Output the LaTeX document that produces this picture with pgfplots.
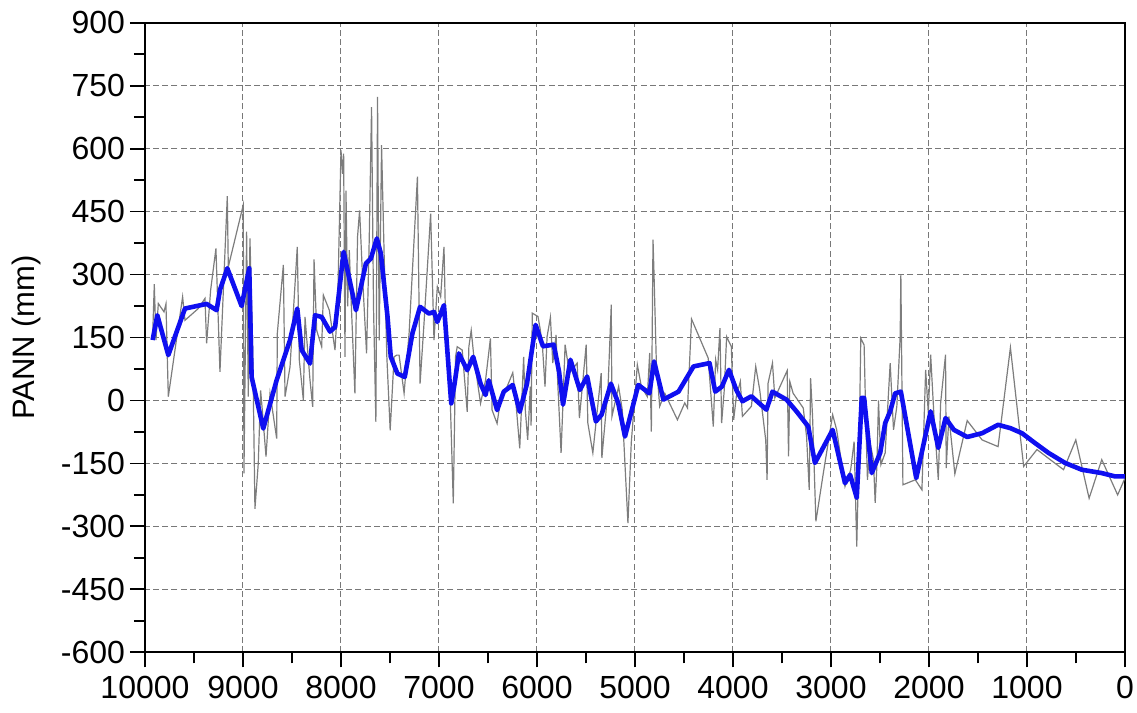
\documentclass[border=0pt]{standalone}
\usepackage{fontspec}
\setmainfont{Liberation Sans}
\usepackage{pgfplots}
\pgfplotsset{compat=1.18}
\definecolor{grayline}{RGB}{125,125,125}
\definecolor{blueline}{RGB}{15,15,240}
\definecolor{gridc}{RGB}{120,120,120}
\pgfplotstableread{
x y
9922 152
9905 277
9888 144
9864 231
9806 211
9786 230
9762 9
9616 247
9592 191
9456 219
9388 243
9371 136
9330 263
9276 362
9235 68
9160 487
9150 318
8997 466
8990 -174
8963 402
8946 9
8929 386
8901 128
8878 -258
8844 -150
8820 24
8800 -31
8765 -134
8724 17
8656 -91
8650 159
8588 323
8571 9
8520 80
8446 366
8425 96
8384 1
8367 199
8316 48
8289 -15
8275 336
8248 167
8197 128
8180 251
8119 215
8061 120
8034 231
8000 596
7983 540
7973 588
7959 104
7949 500
7932 224
7915 358
7898 247
7858 17
7831 390
7810 453
7780 294
7739 112
7712 381
7688 699
7668 223
7644 -51
7627 723
7610 143
7586 608
7559 341
7532 104
7498 -71
7458 104
7431 108
7407 108
7356 17
7305 160
7220 533
7193 40
7153 183
7085 445
7051 144
7017 271
6983 247
6949 366
6932 183
6888 25
6854 -245
6831 104
6814 128
6763 120
6712 -27
6695 128
6671 167
6644 104
6576 -7
6525 48
6475 148
6458 -23
6407 -55
6373 1
6305 33
6247 66
6220 9
6176 -114
6136 104
6119 -23
6095 -94
6068 33
6060 -60
6048 208
5990 200
5966 168
5942 121
5918 33
5897 152
5863 198
5839 89
5805 156
5788 41
5754 -125
5713 133
5669 65
5590 89
5567 -42
5498 133
5481 -54
5430 -125
5345 65
5338 -137
5276 25
5242 228
5235 -38
5167 33
5130 -22
5072 -292
5038 -101
4976 85
4935 33
4874 9
4850 113
4833 -74
4816 383
4806 303
4782 89
4748 -14
4696 17
4567 -46
4492 -6
4464 -18
4423 194
4253 101
4201 -62
4177 97
4157 73
4133 172
4116 -54
4089 25
4065 152
4041 140
4017 129
3993 -46
3966 9
3925 45
3904 -38
3812 -14
3768 81
3727 25
3666 -94
3652 -189
3642 41
3597 89
3573 6
3447 71
3433 -133
3420 45
3386 17
3283 -18
3249 -86
3222 -213
3208 53
3188 -38
3154 -288
3078 -173
2983 -34
2942 -70
2857 -205
2799 -165
2764 -98
2737 -348
2710 -70
2696 148
2662 132
2642 -70
2628 -189
2601 -101
2567 -141
2549 -244
2532 -157
2515 0
2491 -153
2447 -125
2396 89
2362 -70
2328 -14
2294 152
2287 299
2266 -201
2140 -189
2072 -213
2034 73
2007 -30
1983 109
1949 -38
1905 -189
1881 -6
1831 109
1824 -161
1797 -38
1736 -175
1610 -48
1458 -94
1295 -110
1169 126
1085 -50
1034 -157
898 -117
763 -141
627 -165
502 -94
366 -233
237 -141
75 -225
0 -185
}\graydata
\pgfplotstableread{
x y
9922 144
9874 203
9762 108
9592 219
9371 230
9269 215
9235 263
9160 315
9014 225
8936 315
8912 56
8793 -67
8657 48
8520 144
8446 219
8401 120
8316 88
8265 203
8197 199
8112 164
8060 175
7973 354
7847 215
7746 326
7695 338
7634 386
7593 350
7525 199
7492 104
7424 64
7349 56
7271 160
7193 223
7102 207
7051 211
7017 187
6949 227
6875 -7
6841 40
6797 112
6712 72
6651 104
6576 40
6525 13
6492 48
6407 -23
6339 21
6247 37
6176 -27
6102 40
6014 180
5939 129
5829 133
5775 69
5734 -10
5659 97
5563 25
5488 57
5399 -50
5341 -34
5246 40
5171 -6
5102 -86
4966 37
4853 17
4805 93
4710 2
4556 21
4403 81
4239 89
4181 21
4113 33
4041 73
3966 25
3904 -2
3812 10
3659 -22
3597 21
3454 2
3352 -26
3232 -62
3164 -149
2983 -70
2857 -197
2805 -177
2737 -232
2686 6
2662 6
2584 -173
2498 -125
2447 -54
2396 -26
2345 17
2287 21
2130 -185
1983 -26
1905 -113
1831 -42
1746 -70
1610 -87
1458 -78
1295 -58
1169 -66
1051 -78
915 -102
780 -125
610 -149
441 -165
237 -173
102 -181
0 -181
}\bluedata
\begin{document}
\begin{tikzpicture}
\path[use as bounding box] (-72.5pt,-30.35pt) rectangle (496pt,326.15pt);
\begin{axis}[
  scale only axis,
  width=490pt, height=314.8pt,
  at={(0pt,0pt)}, anchor=south west,
  x dir=reverse,
  xmin=0, xmax=10000, ymin=-600, ymax=900,
  xtick={0,1000,...,10000},
  ytick={-600,-450,...,900},
  scaled x ticks=false, scaled y ticks=false,
  minor x tick num=1,
  minor y tick num=1,
  xtick pos=bottom, ytick pos=left,
  tick align=outside,
  major tick length=7.5pt,
  minor tick length=5.5pt,
  axis line style={line width=0.9pt, black},
  every tick/.style={line width=0.9pt, black},
  grid=major,
  major grid style={gridc, line width=0.5pt, dash pattern=on 3pt off 1.6pt},
  /pgf/number format/1000 sep={},
  /pgf/number format/assume math mode=true,
  tick label style={font=\fontsize{16}{19}\selectfont},
  xticklabel style={yshift=-1pt},
  yticklabel style={xshift=1pt},
  ylabel={PANN (mm)},
  ylabel style={at={(axis description cs:-0.1214,0.5)}, anchor=center, font=\fontsize{15.5}{18}\selectfont},
  clip=true,
]
\addplot[grayline, line width=0.6pt] table[x=x,y=y] {\graydata};
\addplot[blueline, line width=2.3pt, line join=round] table[x=x,y=y] {\bluedata};
\end{axis}
\end{tikzpicture}
\end{document}
